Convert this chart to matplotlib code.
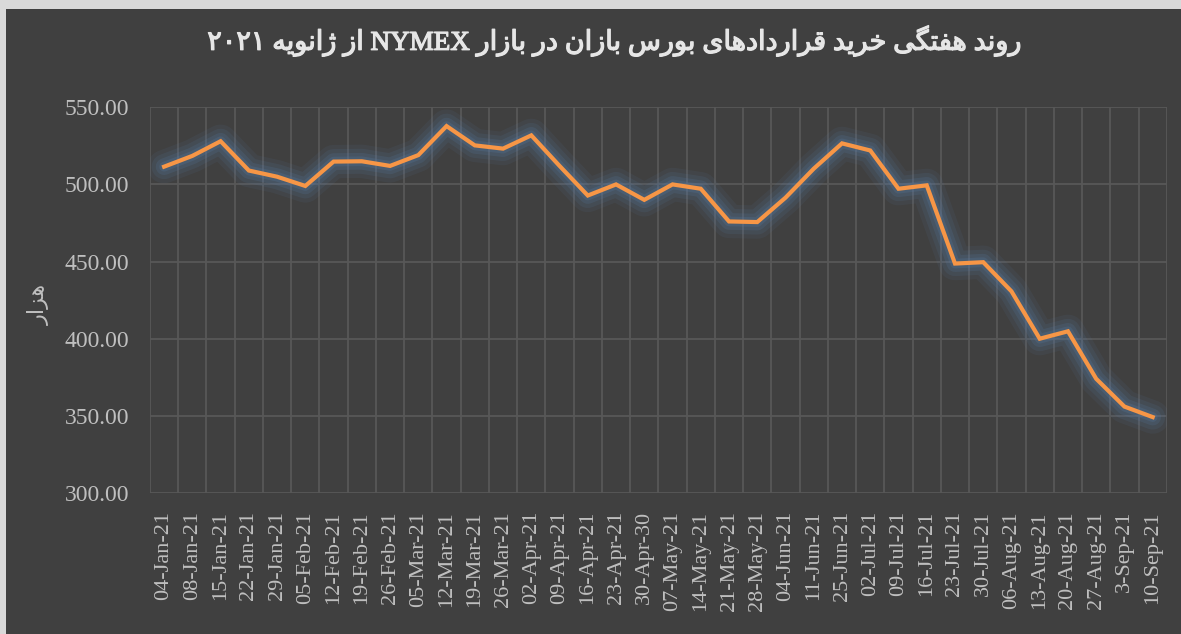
import matplotlib
matplotlib.use('Agg')
import matplotlib.pyplot as plt
import matplotlib.patheffects as pe
from matplotlib.patches import Rectangle

# weekly NYMEX data (thousand contracts)
dates = ['04-Jan-21', '08-Jan-21', '15-Jan-21', '22-Jan-21', '29-Jan-21', '05-Feb-21',
         '12-Feb-21', '19-Feb-21', '26-Feb-21', '05-Mar-21', '12-Mar-21', '19-Mar-21',
         '26-Mar-21', '02-Apr-21', '09-Apr-21', '16-Apr-21', '23-Apr-21', '30-Apr-30',
         '07-May-21', '14-May-21', '21-May-21', '28-May-21', '04-Jun-21', '11-Jun-21',
         '25-Jun-21', '02-Jul-21', '09-Jul-21', '16-Jul-21', '23-Jul-21', '30-Jul-21',
         '06-Aug-21', '13-Aug-21', '20-Aug-21', '27-Aug-21', '3-Sep-21', '10-Sep-21']
values = [511.5, 518.5, 528.0, 509.0, 505.0, 499.0,
          514.8, 515.0, 512.0, 519.0, 537.8, 525.3,
          523.2, 531.8, 512.0, 492.8, 500.0, 490.0,
          500.0, 497.2, 476.0, 475.6, 491.4, 510.2,
          526.6, 522.0, 497.2, 499.4, 448.7, 449.6,
          430.7, 400.0, 404.8, 374.0, 356.0, 349.2]
yticks = [300, 350, 400, 450, 500, 550]

title_text = 'روند هفتگی خرید قراردادهای بورس بازان در بازار NYMEX از ژانویه ۲۰۲۱'
ylabel_text = 'هزار'

# minimal Persian shaping (matplotlib draws no joined forms / RTL)
FORMS = {
    'ا': ('\uFE8D', '\uFE8E'), 'د': ('\uFEA9', '\uFEAA'), 'ذ': ('\uFEAB', '\uFEAC'),
    'ر': ('\uFEAD', '\uFEAE'), 'ز': ('\uFEAF', '\uFEB0'), 'ژ': ('\uFB8A', '\uFB8B'),
    'و': ('\uFEED', '\uFEEE'),
    'ب': ('\uFE8F', '\uFE90', '\uFE91', '\uFE92'), 'پ': ('\uFB56', '\uFB57', '\uFB58', '\uFB59'),
    'ت': ('\uFE95', '\uFE96', '\uFE97', '\uFE98'), 'خ': ('\uFEA5', '\uFEA6', '\uFEA7', '\uFEA8'),
    'س': ('\uFEB1', '\uFEB2', '\uFEB3', '\uFEB4'), 'ف': ('\uFED1', '\uFED2', '\uFED3', '\uFED4'),
    'ق': ('\uFED5', '\uFED6', '\uFED7', '\uFED8'), 'گ': ('\uFB92', '\uFB93', '\uFB94', '\uFB95'),
    'ن': ('\uFEE5', '\uFEE6', '\uFEE7', '\uFEE8'), 'ه': ('\uFEE9', '\uFEEA', '\uFEEB', '\uFEEC'),
    'ی': ('\uFBFC', '\uFBFD', '\uFBFE', '\uFBFF'), 'م': ('\uFEE1', '\uFEE2', '\uFEE3', '\uFEE4'),
}


def persian(text):
    out = []
    for i, c in enumerate(text):
        if c not in FORMS:
            out.append(c)
            continue
        f = FORMS[c]
        prev = i > 0 and text[i - 1] in FORMS and len(FORMS[text[i - 1]]) == 4
        nxt = len(f) == 4 and i + 1 < len(text) and text[i + 1] in FORMS
        if prev and nxt:
            out.append(f[3])
        elif prev:
            out.append(f[1])
        elif nxt:
            out.append(f[2])
        else:
            out.append(f[0])
    words = ''.join(out).split(' ')
    words = [w[::-1] if any(ch in FORMS for ch in text_w) else w
             for w, text_w in zip(words, text.split(' '))]
    return ' '.join(reversed(words))


bg = '#404040'
grid_c = '#585858'
txt_c = '#bfbfbf'

fig = plt.figure(figsize=(11.81, 6.34), dpi=100)
fig.patch.set_facecolor('#d9d9d9')
fig.add_artist(Rectangle((6 / 1181, 0), 1, 1 - 9 / 634, transform=fig.transFigure,
                         facecolor=bg, edgecolor='none', zorder=-10))

ax = fig.add_axes([0.127, 0.2224, 0.861, 0.6084])
ax.set_zorder(1)
ax.set_facecolor(bg)
x = list(range(len(values)))

# soft blue glow under the line
for lw, a in [(24, 0.10), (18, 0.14), (12, 0.2), (7, 0.25)]:
    ax.plot(x, values, color='#56789e', lw=lw, alpha=a, solid_joinstyle='round',
            solid_capstyle='round', zorder=2)
ax.plot(x, values, color='#f79646', lw=3.0, solid_joinstyle='miter', zorder=3)

ax.set_xlim(-0.5, len(values) - 0.5)
ax.set_ylim(300, 550)
ax.set_yticks(yticks)
ax.set_yticklabels([f'{v:.2f}' for v in yticks])
ax.set_xticks(x)
ax.set_xticklabels(dates, rotation=90, va='top', ha='center')
ax.set_xticks([i - 0.5 for i in range(len(values) + 1)], minor=True)
ax.grid(True, axis='y', which='major', color=grid_c, lw=1.3)
ax.grid(True, axis='x', which='minor', color=grid_c, lw=1.3)
ax.set_axisbelow(True)
for s in ax.spines.values():
    s.set_visible(False)
ax.tick_params(axis='both', which='both', length=0)
ax.tick_params(axis='y', pad=15, labelsize=17, labelcolor=txt_c)
ax.tick_params(axis='x', pad=13, labelsize=16, labelcolor=txt_c)
for lab in ax.get_xticklabels() + ax.get_yticklabels():
    lab.set_fontfamily('Liberation Serif')

fig.text(0.033, 0.52, persian(ylabel_text), rotation=90, ha='center', va='center',
         color=txt_c, fontsize=16, family=['DejaVu Sans'])
fig.text(0.52, 0.935, persian(title_text), ha='center', va='center', color='#e6e6e6',
         fontsize=19.5, family=['Liberation Serif', 'DejaVu Sans'],
         path_effects=[pe.withStroke(linewidth=0.9, foreground='#e6e6e6')])

fig.savefig('out.png', dpi=100, facecolor=fig.get_facecolor())
